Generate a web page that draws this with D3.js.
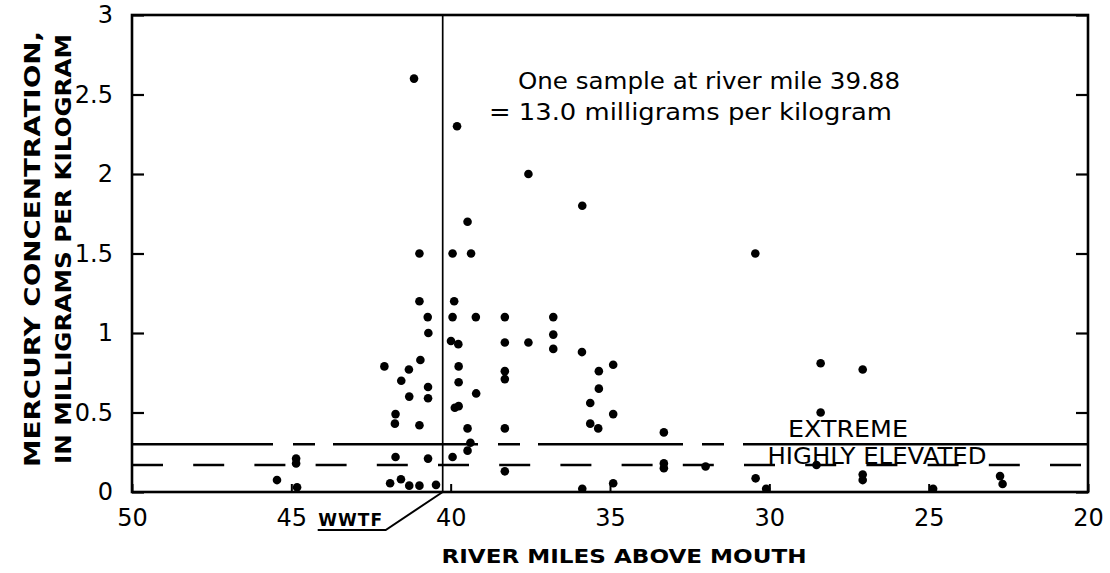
<!DOCTYPE html>
<html>
<head>
<meta charset="utf-8">
<script src="https://cdn.jsdelivr.net/npm/d3@7"></script>
<style>
  html, body { margin: 0; padding: 0; background: #fff; }
  svg { display: block; }
  text { fill: #000; font-family: "DejaVu Sans", sans-serif; }
</style>
</head>
<body>
<svg id="chart" width="1110" height="573"></svg>
<script>
// Sample locations (river miles above mouth) and mercury concentrations (mg/kg)
const riverMiles = [
  45.45, 44.85, 44.85, 44.82,
  42.08, 41.90, 41.75, 41.73, 41.73, 41.56, 41.55, 41.31, 41.30, 41.30,
  41.15, 40.98, 40.98, 40.95, 40.98, 40.98,
  40.72, 40.70, 40.71, 40.71, 40.71, 40.46,
  39.94, 39.89, 39.94, 39.99, 39.76, 39.75, 39.75, 39.87, 39.75, 39.94, 39.80,
  39.47, 39.36, 39.21, 39.20, 39.47, 39.38, 39.47,
  38.30, 38.30, 38.30, 38.30, 38.30, 38.30,
  37.56, 37.56,
  36.78, 36.78, 36.78,
  35.87, 35.88, 35.87, 35.62, 35.62, 35.35, 35.35, 35.37,
  34.90, 34.90, 34.90,
  33.31, 33.31, 33.31, 32.00,
  30.44, 30.43, 30.10,
  28.39, 28.39, 28.52,
  27.07, 27.07, 27.07,
  24.86, 22.76, 22.68
];
const mercury = [
  0.075, 0.21, 0.18, 0.03,
  0.79, 0.055, 0.43, 0.49, 0.22, 0.08, 0.70, 0.77, 0.60, 0.04,
  2.60, 1.50, 1.20, 0.83, 0.42, 0.04,
  1.10, 1.00, 0.66, 0.59, 0.21, 0.045,
  1.50, 1.20, 1.10, 0.95, 0.93, 0.79, 0.69, 0.53, 0.54, 0.22, 2.30,
  1.70, 1.50, 1.10, 0.62, 0.40, 0.31, 0.26,
  1.10, 0.94, 0.76, 0.71, 0.40, 0.13,
  2.00, 0.94,
  1.10, 0.99, 0.90,
  1.80, 0.88, 0.02, 0.56, 0.43, 0.76, 0.65, 0.40,
  0.80, 0.49, 0.055,
  0.375, 0.18, 0.15, 0.16,
  1.50, 0.086, 0.02,
  0.81, 0.50, 0.17,
  0.77, 0.11, 0.075,
  0.02, 0.10, 0.05
];

// Axis ticks
const xTicks = [50, 45, 40, 35, 30, 25, 20];
const yTicks = [0, 0.5, 1, 1.5, 2, 2.5, 3];

// Sediment quality thresholds (mg/kg)
const extremeLevel = 0.3;
const highlyElevatedLevel = 0.17;

// Wastewater treatment facility outfall location (river mile)
const wwtfMile = 40.25;

const svg = d3.select("#chart");
const plotL = 132, plotR = 1088, plotT = 15, plotB = 492;

const x = d3.scaleLinear().domain([50, 20]).range([plotL, plotR]);
const y = d3.scaleLinear().domain([0, 3]).range([plotB, plotT]);

const fmt = d => (d === 0 ? "0" : d3.format("~g")(d));

// Left axis with inward ticks
const gLeft = svg.append("g")
  .attr("transform", `translate(${plotL},0)`)
  .call(d3.axisLeft(y).tickValues(yTicks).tickSize(-12).tickPadding(19).tickFormat(fmt));
gLeft.select(".domain").remove();
gLeft.selectAll("line").attr("stroke", "#000").attr("stroke-width", 2.2);
gLeft.selectAll("text").attr("font-size", 24).attr("font-family", "DejaVu Sans");

// Right axis: ticks only
const gRight = svg.append("g")
  .attr("transform", `translate(${plotR},0)`)
  .call(d3.axisRight(y).tickValues(yTicks).tickSize(-12).tickFormat(""));
gRight.select(".domain").remove();
gRight.selectAll("line").attr("stroke", "#000").attr("stroke-width", 2.2);

// Bottom axis with short inward ticks
const gBottom = svg.append("g")
  .attr("transform", `translate(0,${plotB})`)
  .call(d3.axisBottom(x).tickValues(xTicks).tickSize(-8).tickPadding(17).tickFormat(d3.format("d")));
gBottom.select(".domain").remove();
gBottom.selectAll("line").attr("stroke", "#000").attr("stroke-width", 2);
gBottom.selectAll("text").attr("font-size", 24).attr("font-family", "DejaVu Sans");

// Plot frame
svg.append("rect")
  .attr("x", plotL).attr("y", plotT)
  .attr("width", plotR - plotL).attr("height", plotB - plotT)
  .attr("fill", "none").attr("stroke", "#000").attr("stroke-width", 2.6);

// Threshold lines
svg.append("line")
  .attr("x1", x(50)).attr("x2", x(20))
  .attr("y1", y(extremeLevel)).attr("y2", y(extremeLevel))
  .attr("stroke", "#000").attr("stroke-width", 2.4)
  .attr("stroke-dasharray", "141 20 22 18 145 20 22 18 145 19 22 19 400 0");

svg.append("line")
  .attr("x1", x(50)).attr("x2", x(20))
  .attr("y1", y(highlyElevatedLevel)).attr("y2", y(highlyElevatedLevel))
  .attr("stroke", "#000").attr("stroke-width", 2.4)
  .attr("stroke-dasharray", "31 30.2");

svg.append("text")
  .attr("x", 848).attr("y", y(extremeLevel) - 7)
  .attr("text-anchor", "middle").attr("font-size", 23)
  .attr("textLength", 120).attr("lengthAdjust", "spacingAndGlyphs")
  .text("EXTREME");

svg.append("text")
  .attr("x", 877).attr("y", y(highlyElevatedLevel) - 1)
  .attr("text-anchor", "middle").attr("font-size", 23)
  .attr("textLength", 219).attr("lengthAdjust", "spacingAndGlyphs")
  .text("HIGHLY ELEVATED");

// WWTF location line and leader
const wx = x(wwtfMile);
svg.append("line")
  .attr("x1", wx).attr("x2", wx).attr("y1", plotT).attr("y2", plotB)
  .attr("stroke", "#000").attr("stroke-width", 1.7);
svg.append("path")
  .attr("d", `M${wx},${plotB} L${wx - 57},${plotB + 38} L${wx - 125},${plotB + 38}`)
  .attr("fill", "none").attr("stroke", "#000").attr("stroke-width", 2);
svg.append("text")
  .attr("x", wx - 92).attr("y", plotB + 34)
  .attr("text-anchor", "middle").attr("font-size", 17).attr("font-weight", "bold")
  .attr("letter-spacing", 1)
  .text("WWTF");

// Samples
svg.append("g").selectAll("circle")
  .data(riverMiles.map((m, i) => ({ mile: m, hg: mercury[i] })))
  .join("circle")
  .attr("cx", d => x(d.mile))
  .attr("cy", d => y(d.hg))
  .attr("r", 4.3)
  .attr("fill", "#000");

// Off-scale sample note
const note = svg.append("text").attr("font-size", 23);
note.append("tspan").attr("x", 518).attr("y", 89)
  .attr("textLength", 382).attr("lengthAdjust", "spacingAndGlyphs")
  .text("One sample at river mile 39.88");
note.append("tspan").attr("x", 489).attr("y", 120)
  .attr("textLength", 403).attr("lengthAdjust", "spacingAndGlyphs")
  .text("= 13.0 milligrams per kilogram");

// Axis titles
svg.append("text")
  .attr("x", 624).attr("y", 563)
  .attr("text-anchor", "middle").attr("font-size", 19).attr("font-weight", "bold")
  .attr("textLength", 365).attr("lengthAdjust", "spacingAndGlyphs")
  .text("RIVER MILES ABOVE MOUTH");

const yTitle = svg.append("g").attr("transform", "translate(0,249) rotate(-90)");
yTitle.append("text")
  .attr("x", 0).attr("y", 40)
  .attr("text-anchor", "middle").attr("font-size", 22).attr("font-weight", "bold")
  .attr("textLength", 436).attr("lengthAdjust", "spacingAndGlyphs")
  .text("MERCURY CONCENTRATION,");
yTitle.append("text")
  .attr("x", 0).attr("y", 71)
  .attr("text-anchor", "middle").attr("font-size", 22).attr("font-weight", "bold")
  .attr("textLength", 430).attr("lengthAdjust", "spacingAndGlyphs")
  .text("IN MILLIGRAMS PER KILOGRAM");
</script>
</body>
</html>
